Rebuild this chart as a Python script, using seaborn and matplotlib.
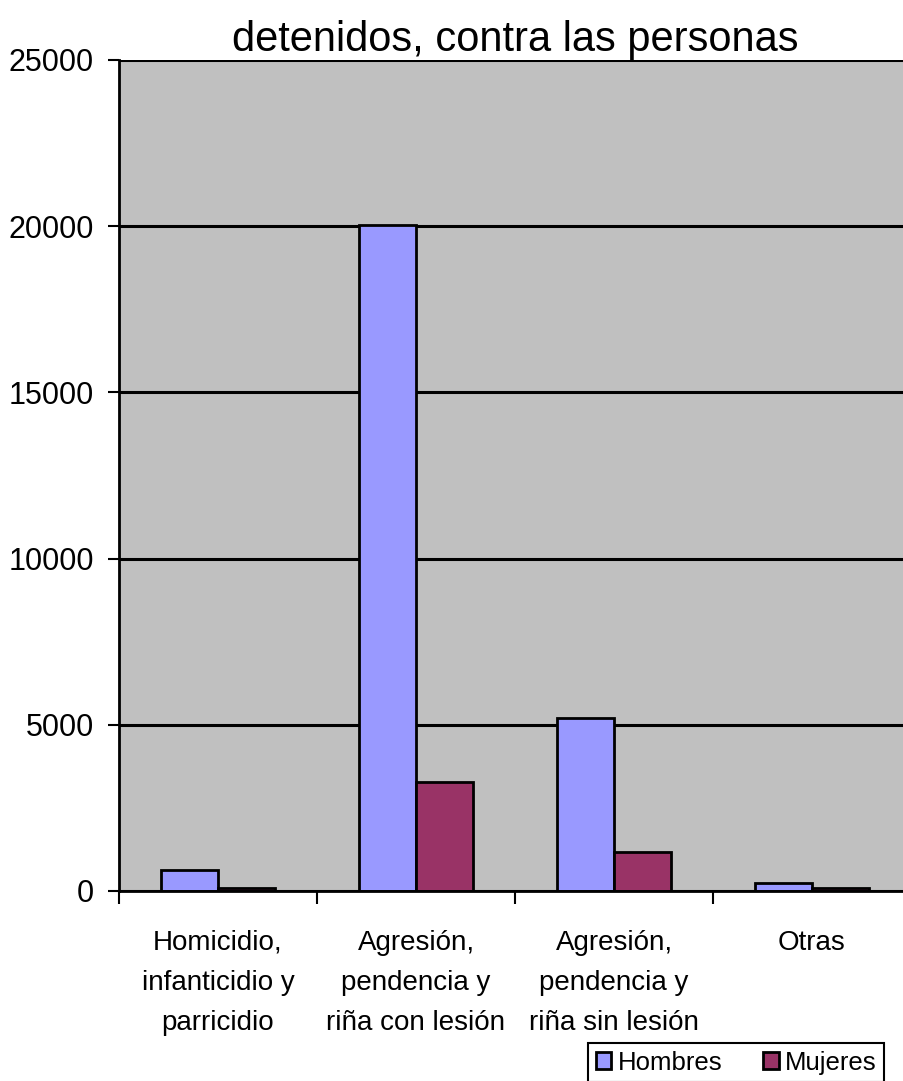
import matplotlib
matplotlib.use("Agg")
import matplotlib.pyplot as plt
import seaborn as sns
import pandas as pd

categorias = [
    "Homicidio,\ninfanticidio y\nparricidio",
    "Agresión,\npendencia y\nriña con lesión",
    "Agresión,\npendencia y\nriña sin lesión",
    "Otras",
]
hombres = [630, 20050, 5200, 240]
mujeres = [80, 3280, 1180, 80]
series = ["Hombres", "Mujeres"]
colores = {"Hombres": "#9999FF", "Mujeres": "#993366"}
yticks = [0, 5000, 10000, 15000, 20000, 25000]

df = pd.DataFrame({
    "categoria": categorias * 2,
    "sexo": ["Hombres"] * len(categorias) + ["Mujeres"] * len(categorias),
    "detenidos": hombres + mujeres,
})

plt.rcParams["font.family"] = ["Liberation Sans", "DejaVu Sans"]

fig = plt.figure(figsize=(9.04, 10.81), dpi=100)
ax = fig.add_axes([119 / 904, 190 / 1081, 792 / 904, 831 / 1081])
ax.set_facecolor("#C0C0C0")

sns.barplot(data=df, x="categoria", y="detenidos", hue="sexo", palette=colores,
            width=0.575, edgecolor="black", linewidth=2, saturation=1, ax=ax)

ax.set_ylim(0, 25000)
ax.set_xlim(-0.5, 3.5)
ax.set_yticks(yticks)
ax.set_yticklabels([str(v) for v in yticks], fontsize=22)
ax.yaxis.grid(True, color="black", linewidth=2.2)
ax.set_axisbelow(True)

# ticks at the category boundaries, labels centred
ax.set_xticks([0, 1, 2, 3])
ax.set_xticklabels(categorias, fontsize=20, linespacing=1.7)
ax.tick_params(axis="x", length=0, pad=28)
ax.set_xticks([-0.5, 0.5, 1.5, 2.5, 3.5], minor=True)
ax.tick_params(axis="x", which="minor", length=9, width=1.5, color="black")
ax.tick_params(axis="y", length=8, width=1.5, pad=10)

for s in ["top", "right"]:
    ax.spines[s].set_visible(False)
for s in ["left", "bottom"]:
    ax.spines[s].set_linewidth(2)
    ax.spines[s].set_color("black")

ax.set_xlabel("")
ax.set_ylabel("")
ax.set_title("detenidos, contra las personas", fontsize=30, pad=6)

handles, labels = ax.get_legend_handles_labels()
ax.get_legend().remove()
leg = fig.legend(handles, labels, loc="upper left",
                 bbox_to_anchor=(588 / 904, 1 - 1043 / 1081),
                 ncol=2, fontsize=18.5, frameon=True, fancybox=False,
                 edgecolor="black", framealpha=1, handlelength=0.6,
                 handleheight=0.6, handletextpad=0.25, columnspacing=1.6,
                 borderpad=0.3, borderaxespad=0)
leg.get_frame().set_linewidth(1.5)

fig.savefig("out.png", dpi=100)
plt.close(fig)
